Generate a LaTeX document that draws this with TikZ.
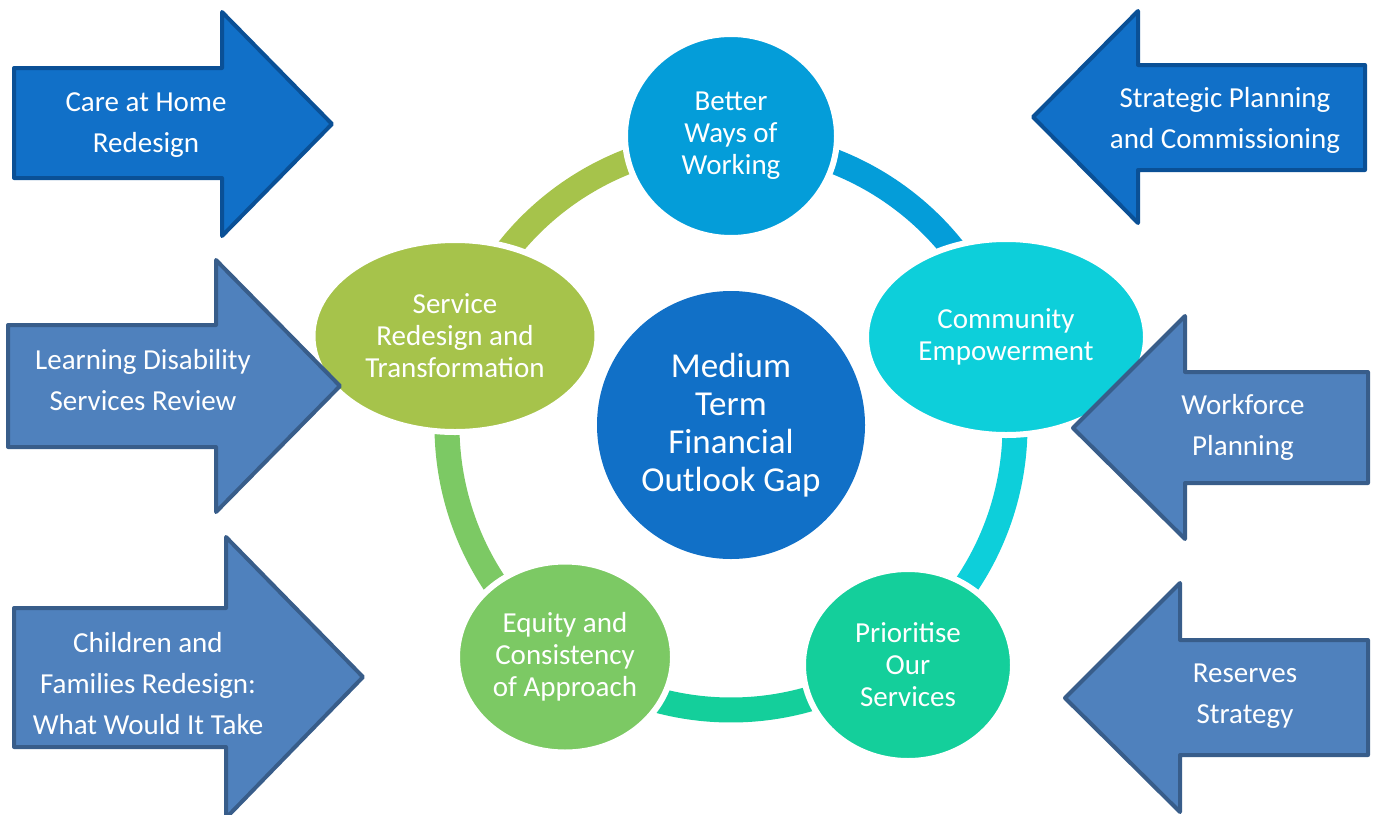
\documentclass[tikz,border=0pt]{standalone}
\usepackage{fontspec}
\setmainfont{Carlito}
\usetikzlibrary{shapes.geometric}
\definecolor{betterblue}{RGB}{4,157,217}
\definecolor{commcyan}{RGB}{13,207,218}
\definecolor{priogreen}{RGB}{20,207,155}
\definecolor{equitygreen}{RGB}{124,201,100}
\definecolor{serviceolive}{RGB}{166,195,75}
\definecolor{hubblue}{RGB}{17,112,199}
\definecolor{darkfill}{RGB}{17,112,200}
\definecolor{darkline}{RGB}{10,80,150}
\definecolor{lightfill}{RGB}{79,129,189}
\definecolor{lightline}{RGB}{56,93,138}

\begin{document}
\begin{tikzpicture}[x=1pt,y=-1pt,
    cyclenode/.style={ellipse, draw=white, line width=6pt, text=white, align=center,
      inner sep=0pt, font=\fontsize{29}{32}\selectfont},
    hubnode/.style={circle, fill=hubblue, text=white, align=center, inner sep=0pt,
      minimum size=268pt, font=\fontsize{35}{38}\selectfont},
    linkarc/.style={line width=25pt},
    darkarrow/.style={fill=darkfill, draw=darkline, line width=4pt, line join=round},
    lightarrow/.style={fill=lightfill, draw=lightline, line width=4pt, line join=round},
    arrowtext/.style={text=white, align=center, font=\fontsize{29}{41}\selectfont}]

  \useasboundingbox (0,0) rectangle (1378,814);

  % Ring
  \coordinate (ring) at (731,426);
  \draw[linkarc, betterblue] (ring) ++(-90:284) arc[start angle=-90, end angle=-18, radius=284];
  \draw[linkarc, commcyan] (ring) ++(-18:284) arc[start angle=-18, end angle=53, radius=284];
  \draw[linkarc, priogreen] (ring) ++(53:284) arc[start angle=53, end angle=126, radius=284];
  \draw[linkarc, equitygreen] (ring) ++(126:284) arc[start angle=126, end angle=198, radius=284];
  \draw[linkarc, serviceolive] (ring) ++(198:284) arc[start angle=198, end angle=270, radius=284];

  % Cycle steps
  \node[cyclenode, fill=betterblue, minimum width=212pt, minimum height=204pt] (better)
    at (731,136) {Better\\Ways of\\Working};
  \node[cyclenode, fill=commcyan, minimum width=280pt, minimum height=196pt] (community)
    at (1006,337) {Community\\Empowerment};
  \node[cyclenode, fill=priogreen, minimum width=210pt, minimum height=192pt] (prioritise)
    at (908,665) {Prioritise\\Our\\Services};
  \node[cyclenode, fill=equitygreen, minimum width=216pt, minimum height=191pt] (equity)
    at (565,657) {Equity and\\Consistency\\of Approach};
  \node[cyclenode, fill=serviceolive, minimum width=285pt, minimum height=192pt] (service)
    at (455,336) {Service\\Redesign and\\Transformation};

  % Hub
  \node[hubnode] (gap) at (731,425) {Medium\\Term\\Financial\\Outlook Gap};

  % Left arrows (->)
  \draw[darkarrow] (14,68) -- (222,68) -- (222,12) -- (332,124) -- (222,236) -- (222,178) -- (14,178) -- cycle;
  \node[arrowtext] (care) at (146,125) {Care at Home\\Redesign};
  \draw[lightarrow] (8,325) -- (216,325) -- (216,260) -- (340,386) -- (216,512) -- (216,447) -- (8,447) -- cycle;
  \node[arrowtext] (ldsr) at (143,380) {Learning Disability\\Services Review};
  \draw[lightarrow] (14,608) -- (226,608) -- (226,537) -- (363,677) -- (226,818) -- (226,747) -- (14,747) -- cycle;
  \node[arrowtext] (cfr) at (148,684) {Children and\\Families Redesign:\\What Would It Take};

  % Right arrows (<-)
  \draw[darkarrow] (1365,65) -- (1138,65) -- (1138,11) -- (1033,117) -- (1138,223) -- (1138,170) -- (1365,170) -- cycle;
  \node[arrowtext] (spc) at (1225,120) {Strategic Planning\\and Commissioning};
  \draw[lightarrow] (1368,372) -- (1185,372) -- (1185,316) -- (1073,428) -- (1185,539) -- (1185,483) -- (1368,483) -- cycle;
  \node[arrowtext] (wfp) at (1243,427) {Workforce\\Planning};
  \draw[lightarrow] (1368,640) -- (1180,640) -- (1180,583) -- (1065,698) -- (1180,812) -- (1180,755) -- (1368,755) -- cycle;
  \node[arrowtext] (res) at (1245,696) {Reserves\\Strategy};

\end{tikzpicture}
\end{document}
